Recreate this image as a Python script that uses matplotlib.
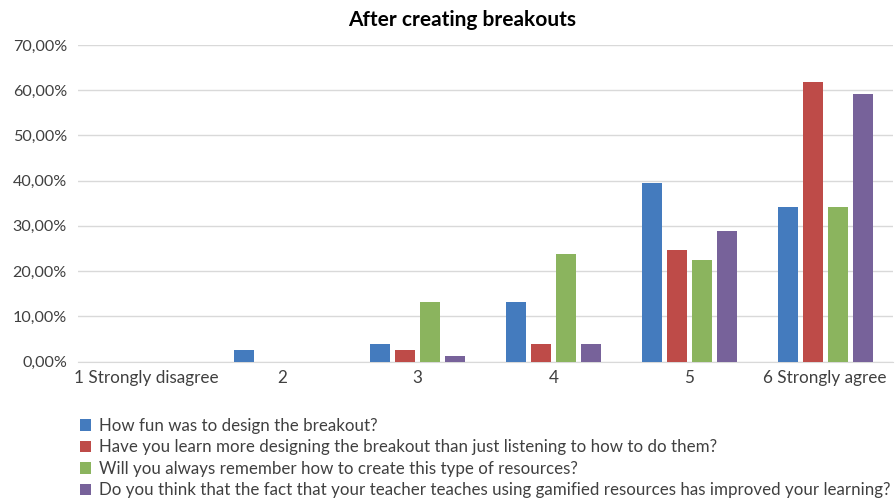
import matplotlib
matplotlib.use("Agg")
import matplotlib.pyplot as plt
import numpy as np
from matplotlib.patches import Patch
from matplotlib.ticker import FuncFormatter

plt.rcParams['font.family'] = ['Lato', 'DejaVu Sans']

categories = ["1 Strongly disagree", "2", "3", "4", "5", "6 Strongly agree"]
series_names = [
    "How fun was to design the breakout?",
    "Have you learn more designing the breakout than just listening to how to do them?",
    "Will you always remember how to create this type of resources?",
    "Do you think that the fact that your teacher teaches using gamified resources has improved your learning?",
]
fun = [0.0, 2.63, 3.95, 13.16, 39.47, 34.21]
learn_more = [0.0, 0.0, 2.63, 3.95, 24.68, 61.84]
remember = [0.0, 0.0, 13.16, 23.68, 22.37, 34.21]
gamified = [0.0, 0.0, 1.32, 3.95, 28.95, 59.21]
values = [fun, learn_more, remember, gamified]
colors = ["#447BBE", "#BE4B48", "#8BB45E", "#77629A"]

fig = plt.figure(figsize=(8.96, 5.01), dpi=100)
ax = fig.add_axes([78/896, 1-361.5/501, (893-78)/896, (361.5-45)/501])

x = np.arange(len(categories))
width = 0.147
pitch = 0.184
for i, (vals, c) in enumerate(zip(values, colors)):
    ax.bar(x + (i - 1.5) * pitch, vals, width=width, color=c, zorder=3)

ax.set_xlim(-0.5, len(categories) - 0.5)
ax.set_ylim(0, 70)
ax.set_yticks(np.arange(0, 71, 10))
ax.yaxis.set_major_formatter(FuncFormatter(lambda v, p: f"{v:.2f}%".replace('.', ',')))
ax.set_xticks(x)
ax.set_xticklabels(categories)
ax.grid(axis='y', color='#D9D9D9', linewidth=1, zorder=0)
for s in ['top', 'right', 'left']:
    ax.spines[s].set_visible(False)
ax.spines['bottom'].set_color('#D9D9D9')
ax.tick_params(axis='y', length=0, labelsize=11.6, colors='#404040', pad=8)
ax.tick_params(axis='x', length=0, labelsize=12.3, colors='#404040', pad=6)

fig.text(0.5155, 1-20/501, "After creating breakouts", ha='center', va='center',
         fontsize=15, fontweight='bold', color='#000000')

handles = [Patch(facecolor=c, edgecolor='none') for c in colors]
leg = fig.legend(handles, series_names, loc='upper left', bbox_to_anchor=(80/896, 1-418/501),
                 frameon=False, fontsize=12.2, handlelength=0.65, handleheight=0.65,
                 handletextpad=0.45, labelspacing=0.32, borderaxespad=0, borderpad=0)
for t in leg.get_texts():
    t.set_color('#404040')

fig.savefig("out.png", dpi=100)
